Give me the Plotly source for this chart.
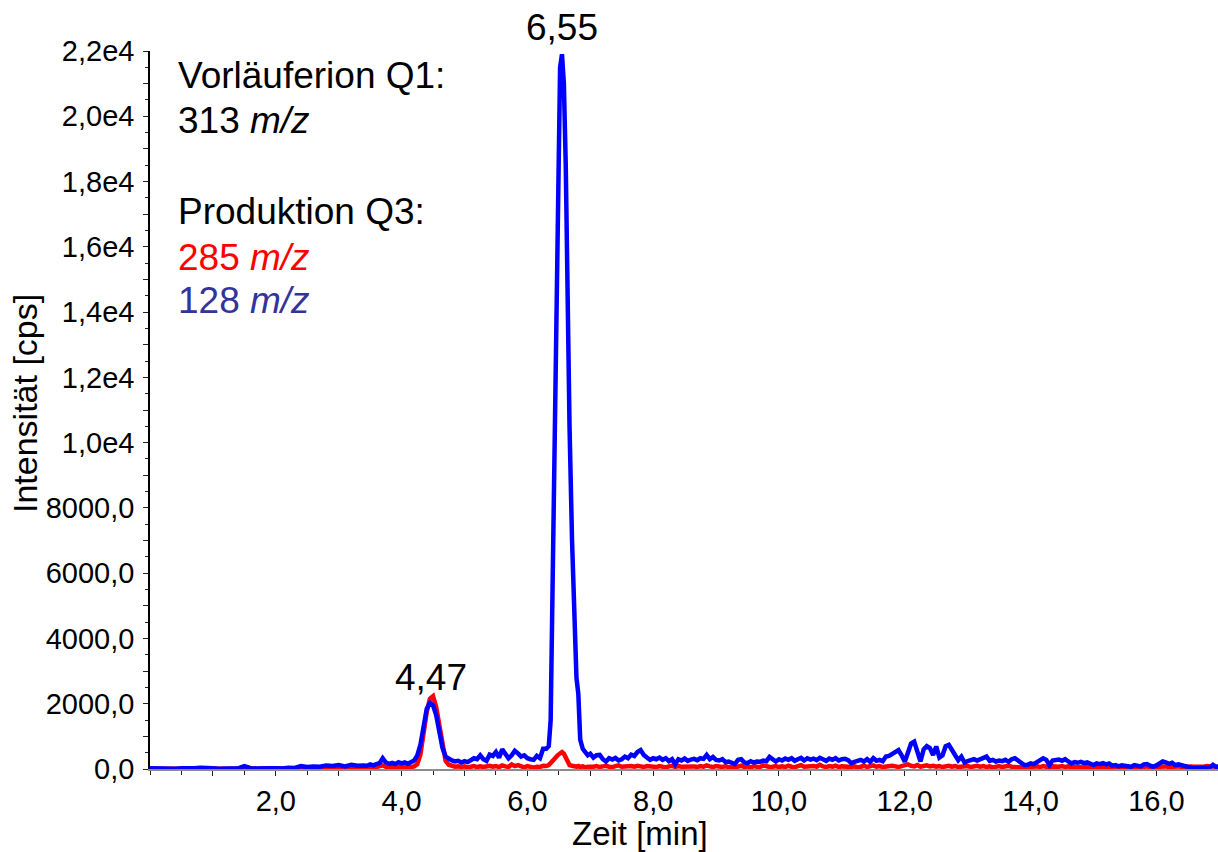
import plotly.graph_objects as go

# ---------------- data ----------------
TIME = [
    0.0, 0.1, 0.2, 0.3, 0.4, 0.5, 0.6, 0.7, 0.8, 0.9, 1.0, 1.1, 1.2, 1.3, 1.4, 1.5, 1.6, 1.7, 1.8, 1.9,
    2.0, 2.1, 2.2, 2.3, 2.4, 2.5, 2.6, 2.7, 2.8, 2.9, 3.0, 3.1, 3.2, 3.3, 3.4,
    3.45, 3.5, 3.55, 3.6, 3.65, 3.7, 3.75, 3.8, 3.85, 3.9, 3.95, 4.0, 4.05, 4.1, 4.15, 4.2,
    4.25, 4.3, 4.35, 4.4, 4.45, 4.5, 4.55, 4.6, 4.65, 4.7, 4.75, 4.8, 4.85, 4.9,
    4.95, 5.0, 5.05, 5.1, 5.15, 5.2, 5.25, 5.3, 5.35, 5.4, 5.45, 5.5, 5.55, 5.6, 5.65, 5.7, 5.75, 5.8,
    5.85, 5.9, 5.95, 6.0, 6.05, 6.1, 6.15, 6.2, 6.25,
    6.30, 6.34, 6.37, 6.40, 6.44, 6.48, 6.52, 6.55, 6.58, 6.61, 6.64, 6.67, 6.71, 6.75, 6.78, 6.81,
    6.84, 6.88, 6.92, 6.96, 7.0,
    7.05, 7.1, 7.15, 7.2, 7.25, 7.3, 7.35, 7.4, 7.45, 7.5, 7.55, 7.6, 7.65, 7.7, 7.75, 7.8, 7.85, 7.9, 7.95, 8.0,
    8.05, 8.1, 8.15, 8.2, 8.25, 8.3, 8.35, 8.4, 8.45, 8.5, 8.55, 8.6, 8.65, 8.7, 8.75, 8.8, 8.85, 8.9, 8.95, 9.0,
    9.05, 9.1, 9.15, 9.2, 9.25, 9.3, 9.35, 9.4, 9.45, 9.5, 9.55, 9.6, 9.65, 9.7, 9.75, 9.8, 9.85, 9.9, 9.95, 10.0,
    10.05, 10.1, 10.15, 10.2, 10.25, 10.3, 10.35, 10.4, 10.45, 10.5, 10.55, 10.6, 10.65, 10.7, 10.75, 10.8, 10.85, 10.9, 10.95, 11.0,
    11.05, 11.1, 11.15, 11.2, 11.25, 11.3, 11.35, 11.4, 11.45, 11.5, 11.55, 11.6, 11.65, 11.7, 11.75, 11.8, 11.85, 11.9, 11.95, 12.0,
    12.05, 12.1, 12.15, 12.2, 12.25, 12.3, 12.35, 12.4, 12.45, 12.5, 12.55, 12.6, 12.65, 12.7, 12.75, 12.8, 12.85, 12.9, 12.95, 13.0,
    13.05, 13.1, 13.15, 13.2, 13.25, 13.3, 13.35, 13.4, 13.45, 13.5, 13.55, 13.6, 13.65, 13.7, 13.75, 13.8, 13.85, 13.9, 13.95, 14.0,
    14.05, 14.1, 14.15, 14.2, 14.25, 14.3, 14.35, 14.4, 14.45, 14.5, 14.55, 14.6, 14.65, 14.7, 14.75, 14.8, 14.85, 14.9, 14.95, 15.0,
    15.05, 15.1, 15.15, 15.2, 15.25, 15.3, 15.35, 15.4, 15.45, 15.5, 15.55, 15.6, 15.65, 15.7, 15.75, 15.8, 15.85, 15.9, 15.95, 16.0,
    16.05, 16.1, 16.15, 16.2, 16.25, 16.3, 16.35, 16.4, 16.45, 16.5, 16.55, 16.6, 16.65, 16.7, 16.75, 16.8, 16.85, 16.9, 16.95,
    17.0,
]

# Q3 285 m/z (red)
INT_285 = [
    10, 5, 15, 5, 10, 5, 10, 5, 15, 5, 10, 5, 10, 5, 10, 40, 10, 5, 15, 10,
    20, 10, 25, 15, 40, 30, 55, 30, 60, 40, 70, 40, 60, 45, 55,
    50, 70, 45, 60, 80, 110, 70, 60, 80, 55, 70, 60, 75, 50, 60, 80,
    150, 450, 1100, 1750, 2150, 2230, 1900, 1300, 650, 250, 130, 90, 70, 80,
    60, 80, 50, 70, 90, 60, 80, 60, 70, 100, 70, 90, 60, 110, 80, 60, 140, 90,
    120, 70, 50, 90, 60, 40, 70, 60, 100,
    90, 120, 200, 240, 330, 420, 500, 520, 470, 330, 200, 120, 100, 80, 70, 90,
    60, 80, 50, 70, 60,
    70, 90, 60, 80, 100, 70, 60, 90, 110, 70, 80, 60, 90, 70, 100, 80, 60, 90, 70, 80,
    60, 90, 70, 50, 80, 100, 60, 90, 70, 80, 60, 100, 80, 60, 90, 70, 110, 80, 60, 90,
    70, 60, 90, 50, 80, 40, 70, 100, 60, 80, 50, 90, 70, 60, 110, 80, 60, 70, 90, 60,
    80, 60, 100, 70, 50, 90, 120, 70, 80, 60, 90, 70, 130, 80, 60, 90, 70, 100, 60, 80,
    70, 90, 60, 80, 50, 70, 100, 60, 80, 110, 70, 90, 60, 80, 70, 100, 80, 60, 90, 110,
    140, 100, 80, 120, 70, 90, 110, 80, 100, 70, 90, 60, 80, 100, 70, 90, 60, 80, 70, 90,
    60, 80, 100, 70, 90, 60, 80, 50, 70, 90, 60, 80, 100, 70, 60, 80, 50, 40, 60, 70,
    50, 80, 60, 90, 70, 50, 80, 60, 70, 90, 60, 80, 50, 70, 60, 80, 50, 70, 60, 40,
    60, 50, 70, 40, 60, 50, 40, 60, 30, 50, 40, 60, 50, 70, 40, 60, 80, 50, 40, 60,
    70, 90, 80, 60, 70, 50, 80, 60, 70, 90, 80, 70, 60, 80, 70, 90, 80, 70, 80,
    60,
]

# Q3 128 m/z (blue)
INT_128 = [
    20, 10, 30, 15, 10, 25, 10, 20, 35, 15, 20, 10, 15, 10, 20, 90, 25, 15, 30, 20,
    25, 15, 40, 30, 90, 60, 80, 70, 110, 90, 120, 80, 130, 100, 110,
    100, 140, 110, 150, 180, 330, 200, 160, 190, 150, 210, 170, 200, 160, 230, 260,
    420, 750, 1300, 1850, 2030, 1950, 1650, 1150, 650, 380, 300, 260, 230, 250,
    200, 240, 210, 280, 330, 300, 420, 300, 250, 440, 400, 520, 350, 600, 450, 330, 420, 560,
    480, 380, 420, 330, 300, 280, 400, 330, 620,
    620, 700, 1500, 5500, 11500, 17500, 21500, 21900, 21000, 18500, 14000, 10500, 7000, 4000, 2800, 2300,
    900, 620, 520, 420, 470,
    350, 420, 430, 300, 230, 330, 290, 340, 260, 300, 380, 330, 440, 400, 520, 580, 430, 350, 280, 330,
    300, 350, 280, 330, 240, 300, 140, 300, 260, 320, 250, 290, 310, 270, 330, 310, 430, 300, 370, 280,
    260, 300, 210, 230, 180, 150, 280, 300, 200, 180, 240, 200, 230, 220, 260, 240, 370, 280, 230, 300,
    260, 320, 280, 330, 250, 300, 340, 260, 330, 290, 320, 270, 340, 300, 250, 320, 280, 330, 260, 300,
    310, 270, 180, 220, 250, 280, 230, 300, 220, 330, 250, 280, 240, 380, 400, 450, 520, 580, 420, 220,
    500, 780, 840, 500, 230, 600, 700, 640, 430, 690, 350, 420, 700, 740, 560, 400, 270, 380, 200, 240,
    280, 300, 260, 290, 340, 380, 250, 280, 230, 260, 240, 280, 220, 300, 330, 250, 180, 120, 130, 170,
    150, 200, 250, 330, 280, 120, 260, 270, 290, 250, 300, 230, 170, 210, 190, 220, 180, 200, 150, 120,
    170, 150, 180, 140, 170, 100, 120, 80, 110, 90, 100, 70, 120, 90, 80, 140, 150, 100, 70, 110,
    160, 230, 200, 160, 190, 120, 140, 110, 80, 50, 40, 30, 40, 25, 40, 30, 50, 130, 60,
    80,
]

PEAK_TIMES = [4.47, 6.55]
PEAK_LABELS = ["4,47", "6,55"]

X_TICK_VALS = [1, 2, 3, 4, 5, 6, 7, 8, 9, 10, 11, 12, 13, 14, 15, 16]
X_TICK_TEXT = ["", "2,0", "", "4,0", "", "6,0", "", "8,0", "", "10,0", "", "12,0", "", "14,0", "", "16,0"]
Y_TICK_VALS = [0, 1000, 2000, 3000, 4000, 5000, 6000, 7000, 8000, 9000, 10000, 11000,
               12000, 13000, 14000, 15000, 16000, 17000, 18000, 19000, 20000, 21000, 22000]
Y_TICK_TEXT = ["0,0", "", "2000,0", "", "4000,0", "", "6000,0", "", "8000,0", "", "1,0e4", "",
               "1,2e4", "", "1,4e4", "", "1,6e4", "", "1,8e4", "", "2,0e4", "", "2,2e4"]

assert len(TIME) == len(INT_285) == len(INT_128)

FONT = "Liberation Sans, Arial, Helvetica, sans-serif"
RED = "#ff0000"
BLUE = "#0000ff"
LABEL_BLUE = "#333399"

fig = go.Figure()
fig.add_trace(go.Scatter(x=TIME, y=INT_285, mode="lines", name="285 m/z",
                         line=dict(color=RED, width=4.5)))
fig.add_trace(go.Scatter(x=TIME, y=INT_128, mode="lines", name="128 m/z",
                         line=dict(color=BLUE, width=4.5)))

fig.update_layout(
    width=1218, height=852,
    margin=dict(l=150, r=0, t=51, b=83),
    paper_bgcolor="white", plot_bgcolor="white",
    showlegend=False,
    font=dict(family=FONT, color="black"),
)

fig.update_xaxes(
    range=[0, 16.98],
    tickmode="array", tickvals=X_TICK_VALS, ticktext=X_TICK_TEXT,
    ticks="outside", ticklen=5, tickwidth=1, tickcolor="#222",
    minor=dict(dtick=0.5, tick0=0, ticks="outside", ticklen=4, tickcolor="#222", showgrid=False),
    tickfont=dict(size=29, family=FONT, color="black"),
    showline=True, linecolor="#8c8c8c", linewidth=2,
    showgrid=False, zeroline=False,
)
fig.update_yaxes(
    range=[0, 22000],
    tickmode="array", tickvals=Y_TICK_VALS, ticktext=Y_TICK_TEXT,
    ticks="outside", ticklen=5, tickwidth=1, tickcolor="#222",
    minor=dict(dtick=500, tick0=0, ticks="outside", ticklen=3, tickcolor="#222", showgrid=False),
    tickfont=dict(size=29, family=FONT, color="black"),
    showline=True, linecolor="black", linewidth=1.5,
    showgrid=False, zeroline=False,
    ticklabelstandoff=3,
)

annos = []
# axis titles
annos.append(dict(text="Zeit [min]", xref="paper", yref="paper", x=(640 - 150) / 1068, y=0,
                  yanchor="middle", xanchor="center", yshift=-64, showarrow=False,
                  font=dict(size=33, family=FONT, color="black")))
annos.append(dict(text="Intensität [cps]", xref="paper", yref="paper", x=0, y=0.5,
                  xanchor="center", yanchor="middle", xshift=-125, yshift=6, textangle=-90, showarrow=False,
                  font=dict(size=34, family=FONT, color="black")))

# info text block
info_lines = [
    ("Vorläuferion Q1:", "black", 75),
    ("313 <i>m/z</i>", "black", 120),
    ("Produktion Q3:", "black", 212),
    ("285 <i>m/z</i>", RED, 257),
    ("128 <i>m/z</i>", LABEL_BLUE, 300),
]
for txt, col, ypx in info_lines:
    annos.append(dict(text=txt, xref="paper", yref="paper",
                      x=(176 - 150) / 1068, y=(769 - ypx) / 718,
                      xanchor="left", yanchor="middle", showarrow=False,
                      font=dict(size=37, family=FONT, color=col)))

# peak labels
peak_shift = {"4,47": -4, "6,55": 4}
for pt, lab in zip(PEAK_TIMES, PEAK_LABELS):
    idx = min(range(len(TIME)), key=lambda i: abs(TIME[i] - pt))
    top = max(INT_285[max(0, idx - 3):idx + 4] + INT_128[max(0, idx - 3):idx + 4])
    annos.append(dict(text=lab, x=pt, y=top, xref="x", yref="y",
                      xanchor="center", yanchor="bottom", yshift=peak_shift[lab], showarrow=False,
                      font=dict(size=37, family=FONT, color="black")))

fig.update_layout(annotations=annos)

fig.write_html("out.html")
